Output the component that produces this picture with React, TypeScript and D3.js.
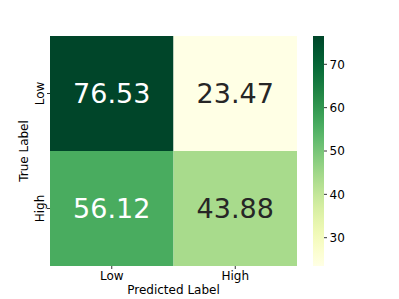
import React from 'react';
import * as d3 from 'd3';

const rowLabels = ['Low', 'High'];
const colLabels = ['Low', 'High'];
const cellValues = [
  [76.53, 23.47],
  [56.12, 43.88],
];
const colorTicks = [30, 40, 50, 60, 70];

export default function App() {
  const width = 399;
  const height = 299;
  const left = 50, right = 297, top = 36, bottom = 266;
  const font = 'DejaVu Sans, sans-serif';

  const x = d3.scaleBand().domain(colLabels).range([left, right]);
  const y = d3.scaleBand().domain(rowLabels).range([top, bottom]);
  const all = cellValues.flat();
  const vmin = d3.min(all) as number;
  const vmax = d3.max(all) as number;
  const color = d3.scaleSequential(d3.interpolateYlGn).domain([vmin, vmax]);

  const cbX = 313, cbW = 11;
  const cbY = d3.scaleLinear().domain([vmin, vmax]).range([bottom, top]);
  const stops = d3.range(0, 1.0001, 0.05);

  return (
    <svg width={width} height={height} style={{ position: 'absolute', left: 0, top: 0 }}>
      <defs>
        <linearGradient id="cb" x1="0" y1="1" x2="0" y2="0">
          {stops.map(t => (
            <stop key={t} offset={t} stopColor={color(vmin + t * (vmax - vmin))} />
          ))}
        </linearGradient>
      </defs>
      {cellValues.map((row, i) =>
        row.map((v, j) => {
          const cx = x(colLabels[j])!;
          const cy = y(rowLabels[i])!;
          const dark = (v - vmin) / (vmax - vmin) > 0.5;
          return (
            <g key={`${i}-${j}`}>
              <rect x={cx} y={cy} width={x.bandwidth()} height={y.bandwidth()} fill={color(v)} />
              <text x={cx + x.bandwidth() / 2} y={cy + y.bandwidth() / 2} dy="0.36em"
                textAnchor="middle" fontFamily={font} fontSize={27}
                fill={dark ? '#ffffff' : '#262626'}>{v.toFixed(2)}</text>
            </g>
          );
        })
      )}
      {/* x ticks */}
      {colLabels.map(c => {
        const cx = x(c)! + x.bandwidth() / 2;
        return (
          <g key={'x' + c}>
            <line x1={cx} x2={cx} y1={bottom} y2={bottom + 3} stroke="#000" strokeWidth={0.8} />
            <text x={cx} y={bottom + 13.5} textAnchor="middle" fontFamily={font} fontSize={12}>{c}</text>
          </g>
        );
      })}
      {/* y ticks */}
      {rowLabels.map(r => {
        const cy = y(r)! + y.bandwidth() / 2;
        return (
          <g key={'y' + r}>
            <line x1={left - 3} x2={left} y1={cy} y2={cy} stroke="#000" strokeWidth={0.8} />
            <text transform={`translate(${left - 6.5},${cy}) rotate(-90)`} textAnchor="middle"
              fontFamily={font} fontSize={12}>{r}</text>
          </g>
        );
      })}
      <text x={(left + right) / 2} y={294} textAnchor="middle" fontFamily={font} fontSize={12}>Predicted Label</text>
      <text transform={`translate(28.3,${(top + bottom) / 2}) rotate(-90)`} textAnchor="middle"
        fontFamily={font} fontSize={12}>True Label</text>
      {/* colorbar */}
      <rect x={cbX} y={top} width={cbW} height={bottom - top} fill="url(#cb)" />
      {colorTicks.map(t => (
        <g key={'c' + t}>
          <line x1={cbX + cbW} x2={cbX + cbW + 3} y1={cbY(t)} y2={cbY(t)} stroke="#000" strokeWidth={0.8} />
          <text x={cbX + cbW + 5.5} y={cbY(t)} dy="0.36em" fontFamily={font} fontSize={12}>{t}</text>
        </g>
      ))}
    </svg>
  );
}
